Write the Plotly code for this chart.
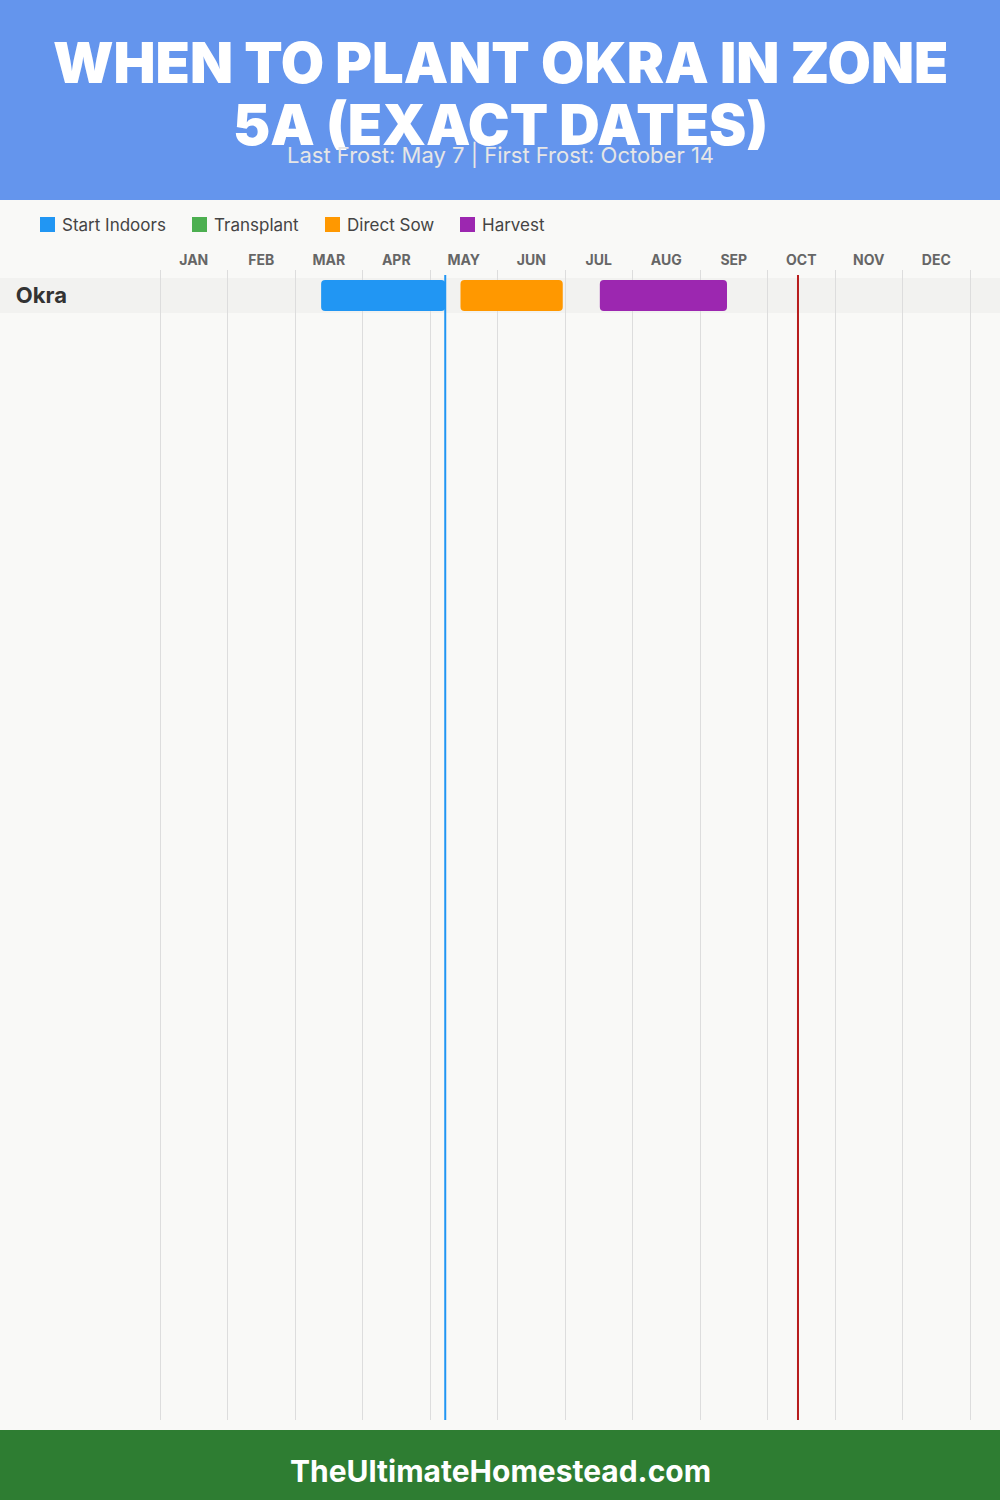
import calendar
import plotly.graph_objects as go

# ---------------- data ----------------
months = ["JAN", "FEB", "MAR", "APR", "MAY", "JUN", "JUL", "AUG", "SEP", "OCT", "NOV", "DEC"]
crops = ["Okra"]
stages = ["Start Indoors", "Transplant", "Direct Sow", "Harvest"]
# (month number, day) start / end for each stage, per crop
start_indoors_start = [(3, 12)]
start_indoors_end = [(5, 7)]
transplant_start = [None]
transplant_end = [None]
direct_sow_start = [(5, 14)]
direct_sow_end = [(6, 29)]
harvest_start = [(7, 16)]
harvest_end = [(9, 12)]
last_frost = (5, 7)
first_frost = (10, 14)

title_lines = ["WHEN TO PLANT OKRA IN ZONE", "5A (EXACT DATES)"]
subtitle = "Last Frost: May 7 | First Frost: October 14"
footer = "TheUltimateHomestead.com"

stage_colors = {"Start Indoors": "#2196F3", "Transplant": "#4CAF50",
                "Direct Sow": "#FF9800", "Harvest": "#9C27B0"}


def mpos(md):
    """month/day -> position on a 0..12 month scale (equal month widths)."""
    m, d = md
    return (m - 1) + d / calendar.monthrange(2025, m)[1]


stage_data = {
    "Start Indoors": (start_indoors_start, start_indoors_end),
    "Transplant": (transplant_start, transplant_end),
    "Direct Sow": (direct_sow_start, direct_sow_end),
    "Harvest": (harvest_start, harvest_end),
}

W, H = 1000, 1500
PAGE_BG = "#F9F9F7"
FONT = "Inter"

fig = go.Figure()

for st in stages:
    s_list, e_list = stage_data[st]
    ys, xs, bases = [], [], []
    for c, s, e in zip(crops, s_list, e_list):
        if s is None or e is None:
            continue
        ys.append(c)
        bases.append(mpos(s))
        xs.append(mpos(e) - mpos(s))
    fig.add_trace(go.Bar(
        y=ys, x=xs, base=bases, orientation="h", name=st,
        marker=dict(color=stage_colors[st], cornerradius=4, line=dict(width=0)),
        width=0.886, showlegend=False, hoverinfo="skip",
    ))

# plot area geometry (pixels)
top_px, bot_px = 270, 1420
row_px = 35.0
row_center = 295.5
yr_top = -(row_center - top_px) / row_px
yr_bot = (bot_px - row_center) / row_px

# x geometry: month 0 at 160px, month 12 at 970px, with a small pad so edge gridlines show
month_px = (970 - 160) / 12
pad = 0.03
x_dom = [(160 - pad * month_px) / W, (970 + pad * month_px) / W]

shapes = []
# header / footer bands
shapes.append(dict(type="rect", xref="paper", yref="paper", x0=0, x1=1,
                   y0=1 - 200 / H, y1=1, fillcolor="#6495ED", line=dict(width=0), layer="below"))
shapes.append(dict(type="rect", xref="paper", yref="paper", x0=0, x1=1,
                   y0=0, y1=70 / H, fillcolor="#2E7D32", line=dict(width=0), layer="below"))
# row bands
for i, c in enumerate(crops):
    shapes.append(dict(type="rect", xref="paper", yref="y", x0=0, x1=1,
                       y0=i - 0.5, y1=i + 0.5, fillcolor="#F2F2F0",
                       line=dict(width=0), layer="between"))
# frost lines
line_top = (bot_px - 275) / (bot_px - top_px)
shapes.append(dict(type="line", xref="x", yref="y domain", x0=mpos(last_frost), x1=mpos(last_frost),
                   y0=0, y1=line_top, line=dict(color="#2196F3", width=2), layer="above"))
shapes.append(dict(type="line", xref="x", yref="y domain", x0=mpos(first_frost), x1=mpos(first_frost),
                   y0=0, y1=line_top, line=dict(color="#B71C1C", width=2), layer="above"))

annotations = []
# title
for ln, yc in zip(title_lines, [63, 125]):
    annotations.append(dict(text=ln, xref="paper", yref="paper", x=0.5, y=1 - yc / H,
                            xanchor="center", yanchor="middle", showarrow=False,
                            font=dict(family=FONT, size=56, color="white", weight=900)))
annotations.append(dict(text=subtitle, xref="paper", yref="paper", x=0.5, y=1 - 154 / H,
                        xanchor="center", yanchor="middle", showarrow=False,
                        font=dict(family=FONT, size=22, color="#E6E6E6")))
annotations.append(dict(text=footer, xref="paper", yref="paper", x=0.5, y=1 - 1471 / H,
                        xanchor="center", yanchor="middle", showarrow=False,
                        font=dict(family=FONT, size=30, color="white", weight=700)))

# legend (manual)
leg_x = [40, 192, 325, 460]
for st, lx in zip(stages, leg_x):
    shapes.append(dict(type="rect", xref="paper", yref="paper",
                       x0=lx / W, x1=(lx + 15) / W, y0=1 - 232 / H, y1=1 - 217 / H,
                       fillcolor=stage_colors[st], line=dict(width=0)))
    annotations.append(dict(text=st, xref="paper", yref="paper", x=(lx + 20) / W, y=1 - 225 / H,
                            xanchor="left", yanchor="middle", showarrow=False,
                            font=dict(family=FONT, size=17, color="#444444")))

fig.update_layout(
    width=W, height=H, margin=dict(l=0, r=0, t=0, b=0),
    paper_bgcolor=PAGE_BG, plot_bgcolor=PAGE_BG,
    barmode="overlay", showlegend=False,
    shapes=shapes, annotations=annotations,
    xaxis=dict(domain=x_dom, range=[-pad, 12 + pad], side="top",
               tickmode="array", tickvals=[i + 0.5 for i in range(12)], ticktext=months,
               showgrid=False, zeroline=False, showline=False, ticks="",
               tickfont=dict(family=FONT, size=14, color="#666666", weight=700),
               ticklabelstandoff=1,
               minor=dict(showgrid=True, tick0=0, dtick=1, gridcolor="#DDDDDD", gridwidth=1),
               fixedrange=True),
    yaxis=dict(domain=[(H - bot_px) / H, (H - top_px) / H], type="category",
               categoryorder="array", categoryarray=crops,
               range=[yr_bot, yr_top], showgrid=False, zeroline=False, showline=False,
               ticks="", ticklabelstandoff=90,
               tickfont=dict(family=FONT, size=22, color="#333333", weight=700),
               fixedrange=True),
)

fig.write_html(
    "out.html",
    config={"displayModeBar": False},
    post_script="document.body.style.margin='0';document.body.style.padding='0';",
)
